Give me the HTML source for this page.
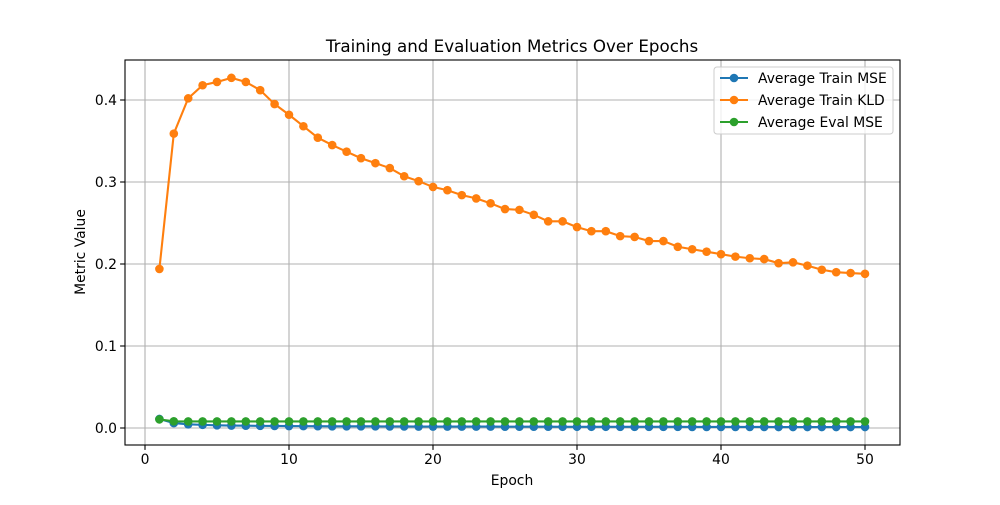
<!DOCTYPE html>
<html><head><meta charset="utf-8"><style>
body{margin:0;background:#fff;font-family:"Liberation Sans","DejaVu Sans",sans-serif}
svg text{font-family:"DejaVu Sans","Liberation Sans",sans-serif;font-size:13.9px;fill:#000}
</style></head><body>
<svg id="chart" width="1000" height="500"></svg>
<script>
const epochs=[];for(let i=1;i<=50;i++)epochs.push(i);
const trainMse=[0.011,0.006,0.0045,0.0038,0.0033,0.003,0.0028,0.0026,0.0025,0.0024,0.0023,0.0022,0.0021,0.0021,0.002,0.002,0.0019,0.0019,0.0018,0.0018,0.0018,0.0017,0.0017,0.0017,0.0016,0.0016,0.0016,0.0016,0.0015,0.0015,0.0015,0.0015,0.0014,0.0014,0.0014,0.0014,0.0014,0.0013,0.0013,0.0013,0.0013,0.0013,0.0013,0.0012,0.0012,0.0012,0.0012,0.0012,0.0012,0.0012];
const trainKld=[0.194,0.359,0.402,0.418,0.422,0.427,0.422,0.412,0.395,0.382,0.368,0.354,0.345,0.337,0.329,0.323,0.317,0.307,0.301,0.294,0.290,0.284,0.280,0.274,0.267,0.266,0.260,0.252,0.252,0.245,0.240,0.240,0.234,0.233,0.228,0.228,0.221,0.218,0.215,0.212,0.209,0.207,0.206,0.201,0.202,0.198,0.193,0.190,0.189,0.188];
const evalMse=[0.0105,0.0082,0.008,0.008,0.008,0.008,0.008,0.008,0.008,0.008,0.008,0.008,0.008,0.008,0.008,0.008,0.008,0.008,0.008,0.008,0.008,0.008,0.008,0.008,0.008,0.008,0.008,0.008,0.008,0.008,0.008,0.008,0.008,0.008,0.008,0.008,0.008,0.008,0.008,0.008,0.008,0.008,0.008,0.008,0.008,0.008,0.008,0.008,0.008,0.008];
const xTicks=[0,10,20,30,40,50];
const yTicks=[0.0,0.1,0.2,0.3,0.4];
const seriesNames=["Average Train MSE","Average Train KLD","Average Eval MSE"];
const colors=["#1f77b4","#ff7f0e","#2ca02c"];

const NS="http://www.w3.org/2000/svg";
const svg=document.getElementById('chart');
const L=125,R=900,T=60,B=445;
const X=v=>145+(v)*14.4;
const Y=v=>428-v*820;
function el(t,a,p){const e=document.createElementNS(NS,t);for(const k in a)e.setAttribute(k,a[k]);(p||svg).appendChild(e);return e;}
xTicks.forEach(t=>{
 const g=el('line',{x1:X(t),x2:X(t),y1:T,y2:B,stroke:'#b0b0b0','stroke-width':1.1});
 
 
 el('line',{x1:X(t),x2:X(t),y1:B,y2:B+4.9,stroke:'#000','stroke-width':1.1});
 const tx=el('text',{x:X(t),y:B+19,'text-anchor':'middle'});tx.textContent=t;
 
 
});
yTicks.forEach(t=>{
 const g=el('line',{x1:L,x2:R,y1:Y(t),y2:Y(t),stroke:'#b0b0b0','stroke-width':1.1});
 
 
 el('line',{x1:L-4.9,x2:L,y1:Y(t),y2:Y(t),stroke:'#000','stroke-width':1.1});
 const tx=el('text',{x:L-8,y:Y(t)+5,'text-anchor':'end'});tx.textContent=t.toFixed(1);
 
 
});
[trainMse,trainKld,evalMse].forEach((s,i)=>{
 const g=el('g',{});
 
 
 el('polyline',{points:s.map((v,j)=>X(epochs[j])+','+Y(v)).join(' '),fill:'none',stroke:colors[i],'stroke-width':2.1},g);
 s.forEach((v,j)=>{const c=el('circle',{cx:X(epochs[j]),cy:Y(v),r:4.3,fill:colors[i]},g);
  
  });
});
const fr=el('rect',{x:L,y:T,width:R-L,height:B-T,fill:'none',stroke:'#000','stroke-width':1.1});


let t=el('text',{x:512,y:52,'text-anchor':'middle'});t.style.fontSize='16.7px';t.textContent='Training and Evaluation Metrics Over Epochs';


t=el('text',{x:512,y:485,'text-anchor':'middle'});t.textContent='Epoch';


t=el('text',{x:0,y:0,'text-anchor':'middle',transform:'translate(85,252) rotate(-90)'});t.textContent='Metric Value';


const lg=el('g',{});


el('rect',{x:714,y:67,width:179,height:67,rx:3,fill:'#fff','fill-opacity':0.8,stroke:'#ccc'},lg);
seriesNames.forEach((n,i)=>{
 const y=78+i*22;
 const e=el('g',{},lg);
 
 
 el('line',{x1:720,x2:748,y1:y,y2:y,stroke:colors[i],'stroke-width':2.1},e);
 el('circle',{cx:734,cy:y,r:4.3,fill:colors[i]},e);
 const tx=el('text',{x:758,y:y+5},e);tx.textContent=n;
});
</script>
</body></html>
